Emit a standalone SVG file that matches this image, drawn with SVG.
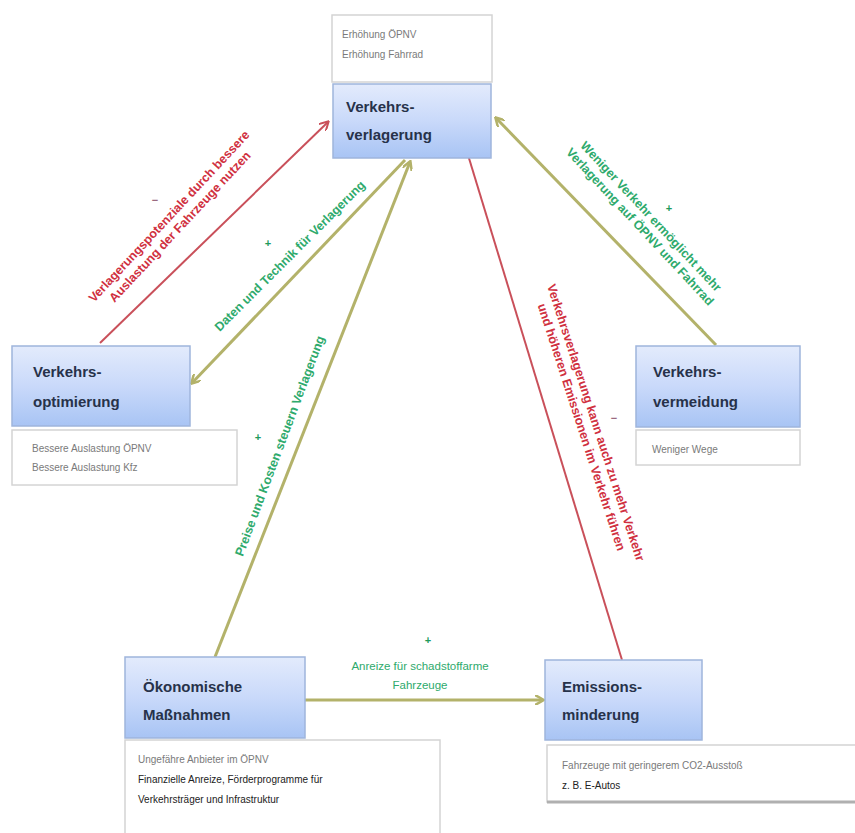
<svg xmlns="http://www.w3.org/2000/svg" width="855" height="833" viewBox="0 0 855 833">
<defs>
<linearGradient id="bg" x1="0" y1="0" x2="0" y2="1">
<stop offset="0" stop-color="#e3ebfc"/>
<stop offset="0.5" stop-color="#c9d9fa"/>
<stop offset="1" stop-color="#a8c4f4"/>
</linearGradient>
<marker id="ao" markerWidth="10" markerHeight="10" refX="8" refY="5" orient="auto" markerUnits="userSpaceOnUse">
<path d="M0,0 L9,5 L0,10" fill="none" stroke="#b3b26a" stroke-width="2.5"/>
</marker>
<marker id="ar" markerWidth="10" markerHeight="10" refX="8" refY="5" orient="auto" markerUnits="userSpaceOnUse">
<path d="M0,0 L9,5 L0,10" fill="none" stroke="#c9505a" stroke-width="2"/>
</marker>
</defs>
<style>
.node rect.b{fill:url(#bg);stroke:#9fb5dc;stroke-width:1.5}
.node text.t{font-family:"Liberation Sans",Arial,sans-serif;font-size:15px;font-weight:bold;fill:#27324a}
.note rect{fill:#ffffff;stroke:#d4d4d4;stroke-width:1.5}
.note text{font-family:"Liberation Sans",Arial,sans-serif;font-size:10px;fill:#7a7a7a}
.note text.k{fill:#222222}
.olive{stroke:#b3b26a;stroke-width:3;fill:none}
.red{stroke:#c9505a;stroke-width:2;fill:none}
.lg{font-family:"Liberation Sans",Arial,sans-serif;font-size:12.5px;font-weight:bold;fill:#2eaa6c}
.lr{font-family:"Liberation Sans",Arial,sans-serif;font-size:12.5px;font-weight:bold;fill:#d03040}
.sg{font-family:"Liberation Sans",Arial,sans-serif;font-size:11px;font-weight:bold;fill:#1f9a5c}
.sr{font-family:"Liberation Sans",Arial,sans-serif;font-size:11px;font-weight:bold;fill:#9a6a80}
</style>
<rect width="855" height="833" fill="#ffffff"/>

<g id="connectors">
<line class="red" x1="100" y1="343" x2="328" y2="122" marker-end="url(#ar)"/>
<line class="olive" x1="405" y1="160" x2="192" y2="383" marker-end="url(#ao)"/>
<line class="olive" x1="215" y1="657" x2="410" y2="162" marker-end="url(#ao)"/>
<line class="red" x1="622" y1="660" x2="461" y2="132" marker-end="url(#ar)"/>
<line class="olive" x1="716" y1="345" x2="496" y2="118" marker-end="url(#ao)"/>
<line class="olive" x1="305" y1="700" x2="543" y2="700" marker-end="url(#ao)"/>

<g transform="translate(175,222) rotate(-47)">
<text class="lr" x="0" y="-4" text-anchor="middle">Verlagerungspotenziale durch bessere</text>
<text class="lr" x="0" y="11" text-anchor="middle">Auslastung der Fahrzeuge nutzen</text>
</g>
<text class="sr" x="155" y="204" text-anchor="middle">−</text>

<g transform="translate(290,256) rotate(-45)">
<text class="lg" x="0" y="4" text-anchor="middle">Daten und Technik für Verlagerung</text>
</g>
<text class="sg" x="268" y="247" text-anchor="middle">+</text>

<g transform="translate(280,446) rotate(-69.5)">
<text class="lg" x="0" y="4" text-anchor="middle">Preise und Kosten steuern Verlagerung</text>
</g>
<text class="sg" x="258" y="441" text-anchor="middle">+</text>

<g transform="translate(588,425) rotate(72)">
<text class="lr" x="0" y="-4" text-anchor="middle">Verkehrsverlagerung kann auch zu mehr Verkehr</text>
<text class="lr" x="0" y="11" text-anchor="middle">und höheren Emissionen im Verkehr führen</text>
</g>
<text class="sr" x="614" y="422" text-anchor="middle">−</text>

<g transform="translate(645,222) rotate(47)">
<text class="lg" x="0" y="-4" text-anchor="middle">Weniger Verkehr ermöglicht mehr</text>
<text class="lg" x="0" y="11" text-anchor="middle">Verlagerung auf ÖPNV und Fahrrad</text>
</g>
<text class="sg" x="669" y="212" text-anchor="middle">+</text>

<text class="lg" x="420" y="670" text-anchor="middle" style="font-weight:normal;font-size:11.5px">Anreize für schadstoffarme</text>
<text class="lg" x="420" y="689" text-anchor="middle" style="font-weight:normal;font-size:11.5px">Fahrzeuge</text>
<text class="sg" x="428" y="644" text-anchor="middle">+</text>
</g>

<g id="n_verlagerung" class="node">
<g class="note"><rect x="332" y="15" width="160" height="67"/>
<text x="342" y="38">Erhöhung ÖPNV</text>
<text x="342" y="58">Erhöhung Fahrrad</text></g>
<rect class="b" x="333" y="84" width="158" height="74"/>
<text class="t" x="346" y="112">Verkehrs-</text>
<text class="t" x="346" y="140">verlagerung</text>
</g>

<g id="n_optimierung" class="node">
<rect class="b" x="12" y="346" width="178" height="80"/>
<text class="t" x="33" y="377">Verkehrs-</text>
<text class="t" x="33" y="407">optimierung</text>
<g class="note"><rect x="12" y="430" width="225" height="55"/>
<text x="32" y="452">Bessere Auslastung ÖPNV</text>
<text x="32" y="471">Bessere Auslastung Kfz</text></g>
</g>

<g id="n_vermeidung" class="node">
<rect class="b" x="636" y="346" width="164" height="81"/>
<text class="t" x="653" y="377">Verkehrs-</text>
<text class="t" x="653" y="407">vermeidung</text>
<g class="note"><rect x="636" y="430" width="164" height="35"/>
<text x="652" y="453">Weniger Wege</text></g>
</g>

<g id="n_oekonomisch" class="node">
<rect class="b" x="125" y="657" width="180" height="81"/>
<text class="t" x="143" y="692">Ökonomische</text>
<text class="t" x="143" y="720">Maßnahmen</text>
<g class="note"><rect x="125" y="740" width="315" height="95"/>
<text x="138" y="763">Ungefähre Anbieter im ÖPNV</text>
<text class="k" x="138" y="783">Finanzielle Anreize, Förderprogramme für</text>
<text class="k" x="138" y="803">Verkehrsträger und Infrastruktur</text></g>
</g>

<g id="n_emission" class="node">
<rect class="b" x="545" y="660" width="157" height="80"/>
<text class="t" x="562" y="692">Emissions-</text>
<text class="t" x="562" y="720">minderung</text>
<g class="note"><rect x="547" y="745" width="310" height="57"/>
<line x1="547" y1="802" x2="855" y2="802" stroke="#b0b0b0" stroke-width="3"/>
<text x="562" y="769">Fahrzeuge mit geringerem CO2-Ausstoß</text>
<text class="k" x="562" y="789">z. B. E-Autos</text></g>
</g>
</svg>
